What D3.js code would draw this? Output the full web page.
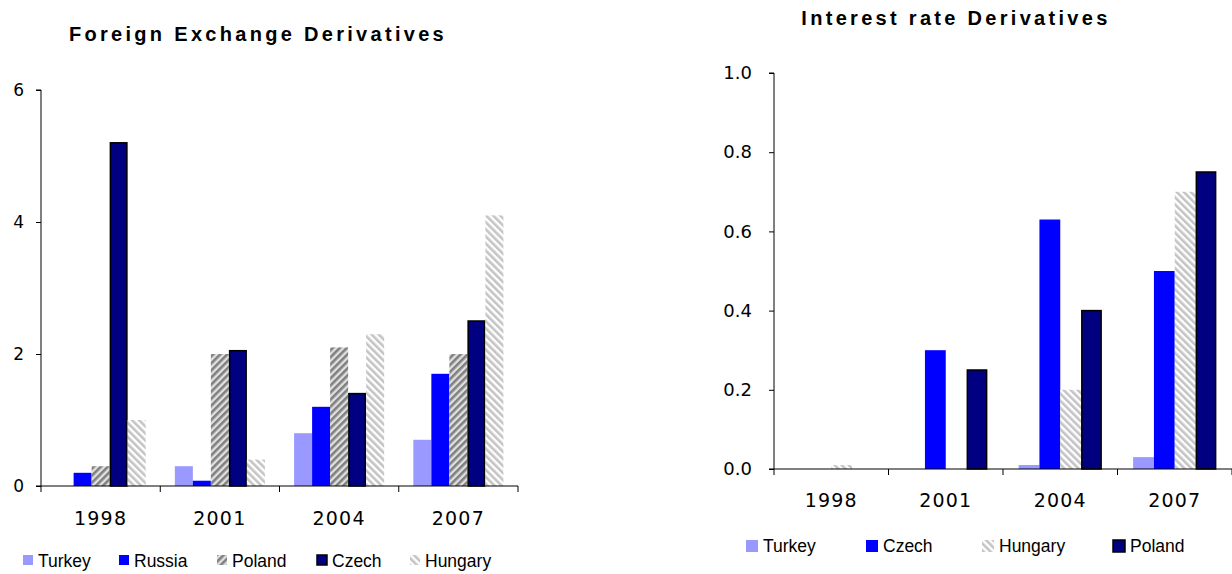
<!DOCTYPE html>
<html>
<head>
<meta charset="utf-8">
<script src="https://cdn.jsdelivr.net/npm/d3@7"></script>
<style>
  body { margin: 0; background: #fff; }
  text { fill: #000; }
  .tick text, .lbl { font-family: "DejaVu Sans", Verdana, sans-serif; }
  .title { font-family: "Liberation Sans", Arial, sans-serif; font-weight: bold; font-size: 20px; letter-spacing: 3.3px; }
  .leg { font-family: "Liberation Sans", Arial, sans-serif; font-size: 17.5px; }
</style>
</head>
<body>
<svg width="1232" height="574"></svg>
<script>
// chart data
var years = ["1998", "2001", "2004", "2007"];

var fxSeries = ["Turkey", "Russia", "Poland", "Czech", "Hungary"];
var fxTurkey  = [0, 0.3, 0.8, 0.7];
var fxRussia  = [0.2, 0.08, 1.2, 1.7];
var fxPoland  = [0.3, 2.0, 2.1, 2.0];
var fxCzech   = [5.2, 2.05, 1.4, 2.5];
var fxHungary = [1.0, 0.4, 2.3, 4.1];
var fxTicks = [0, 2, 4, 6];

var irSeries = ["Turkey", "Czech", "Hungary", "Poland"];
var irTurkey  = [0, 0, 0.01, 0.03];
var irCzech   = [0, 0.3, 0.63, 0.5];
var irHungary = [0.01, 0, 0.2, 0.7];
var irPoland  = [0, 0.25, 0.4, 0.75];
var irTicks = [0, 0.2, 0.4, 0.6, 0.8, 1.0];

var svg = d3.select("svg");

// hatch patterns
var defs = svg.append("defs");
var p1 = defs.append("pattern").attr("id", "darkHatch").attr("patternUnits", "userSpaceOnUse")
  .attr("width", 5).attr("height", 5).attr("patternTransform", "rotate(45)");
p1.append("rect").attr("width", 5).attr("height", 5).attr("fill", "#e0e0e0");
p1.append("rect").attr("width", 2.6).attr("height", 5).attr("fill", "#808080");

var p2 = defs.append("pattern").attr("id", "lightHatch").attr("patternUnits", "userSpaceOnUse")
  .attr("width", 5).attr("height", 5).attr("patternTransform", "rotate(-45)");
p2.append("rect").attr("width", 5).attr("height", 5).attr("fill", "#ffffff");
p2.append("rect").attr("width", 2.6).attr("height", 5).attr("fill", "#c4c4c4");

var styles = {
  turkey: {fill: "#9999ff", stroke: "none"},
  blue: {fill: "#0000ff", stroke: "none"},
  navy: {fill: "#000080", stroke: "#000"},
  dark: {fill: "url(#darkHatch)", stroke: "none"},
  light: {fill: "url(#lightHatch)", stroke: "none"}
};

var drawChart = function(opt) {
  var g = svg.append("g");

  var x = d3.scaleBand().domain(years).range([opt.x0, opt.x1]).padding(0);
  var xs = d3.scaleBand().domain(opt.series).range([0, x.bandwidth()])
    .paddingInner(0).paddingOuter(opt.outer);
  var y = d3.scaleLinear().domain(opt.domain).range([opt.y0, opt.y1]);

  // bars
  opt.series.forEach(function(s, i) {
    var st = styles[opt.styles[i]];
    g.selectAll(null).data(opt.values[i]).enter().append("rect")
      .attr("x", function(d, j) { return x(years[j]) + xs(s) + (st.stroke !== "none" ? 0.75 : 0); })
      .attr("y", function(d) { return y(d); })
      .attr("width", xs.bandwidth() - (st.stroke !== "none" ? 1.5 : 0))
      .attr("height", function(d) { return opt.y0 - y(d); })
      .attr("fill", st.fill)
      .attr("stroke", function(d) { return d > 0 ? st.stroke : "none"; })
      .attr("stroke-width", 1.5);
  });

  // y axis
  var ya = g.append("g").attr("transform", "translate(" + opt.x0 + ",0)")
    .call(d3.axisLeft(y).tickValues(opt.ticks).tickFormat(opt.fmt).tickSize(5).tickPadding(opt.ypad));
  ya.select(".domain").attr("d", "M-5," + y(opt.domain[1]) + "H0V" + opt.y0);
  ya.selectAll(".tick text").attr("font-size", opt.yfont);

  // x axis
  var xa = g.append("g").attr("transform", "translate(0," + opt.y0 + ")");
  xa.append("line").attr("x1", opt.x0 - 5).attr("x2", opt.x1).attr("stroke", "#000");
  xa.selectAll(".tk").data(d3.range(years.length + 1)).enter().append("line")
    .attr("x1", function(d) { return opt.x0 + d * x.step(); })
    .attr("x2", function(d) { return opt.x0 + d * x.step(); })
    .attr("y1", 0).attr("y2", 6).attr("stroke", "#000");
  xa.selectAll(".yr").data(years).enter().append("text").attr("class", "lbl")
    .attr("x", function(d) { return x(d) + x.bandwidth() / 2; })
    .attr("y", opt.xlabY).attr("text-anchor", "middle")
    .attr("font-size", 19).attr("letter-spacing", 1.2)
    .text(function(d) { return d; });

  // title
  g.append("text").attr("class", "title").attr("x", opt.titleX).attr("y", opt.titleY)
    .attr("text-anchor", "middle").text(opt.title);

  // legend
  var lg = g.selectAll(".lg").data(opt.series).enter().append("g")
    .attr("transform", function(d, i) { return "translate(" + opt.legX[i] + "," + opt.legY + ")"; });
  lg.append("rect").attr("x", 0).attr("y", -12).attr("width", opt.legSq).attr("height", opt.legSq)
    .attr("fill", function(d, i) { return styles[opt.styles[i]].fill; })
    .attr("stroke", function(d, i) { return styles[opt.styles[i]].stroke; })
    .attr("stroke-width", 1.5);
  lg.append("text").attr("class", "leg").attr("x", opt.legSq + 5).attr("y", 0)
    .text(function(d) { return d; });
};

drawChart({
  series: fxSeries,
  values: [fxTurkey, fxRussia, fxPoland, fxCzech, fxHungary],
  styles: ["turkey", "blue", "dark", "navy", "light"],
  x0: 41, x1: 518, y0: 486, y1: 90, domain: [0, 6], ticks: fxTicks,
  fmt: d3.format("d"), outer: 0.81, ypad: 12, yfont: 17, xlabY: 39,
  title: "Foreign Exchange Derivatives", titleX: 258, titleY: 41,
  legX: [23, 119, 217, 317, 410], legY: 567, legSq: 10
});

drawChart({
  series: irSeries,
  values: [irTurkey, irCzech, irHungary, irPoland],
  styles: ["turkey", "blue", "light", "navy"],
  x0: 774, x1: 1232, y0: 469, y1: 73, domain: [0, 1], ticks: irTicks,
  fmt: d3.format(".1f"), outer: 0.75, ypad: 17, yfont: 18, xlabY: 38,
  title: "Interest rate Derivatives", titleX: 956, titleY: 25,
  legX: [746, 866, 982, 1113], legY: 552, legSq: 12
});
</script>
</body>
</html>
